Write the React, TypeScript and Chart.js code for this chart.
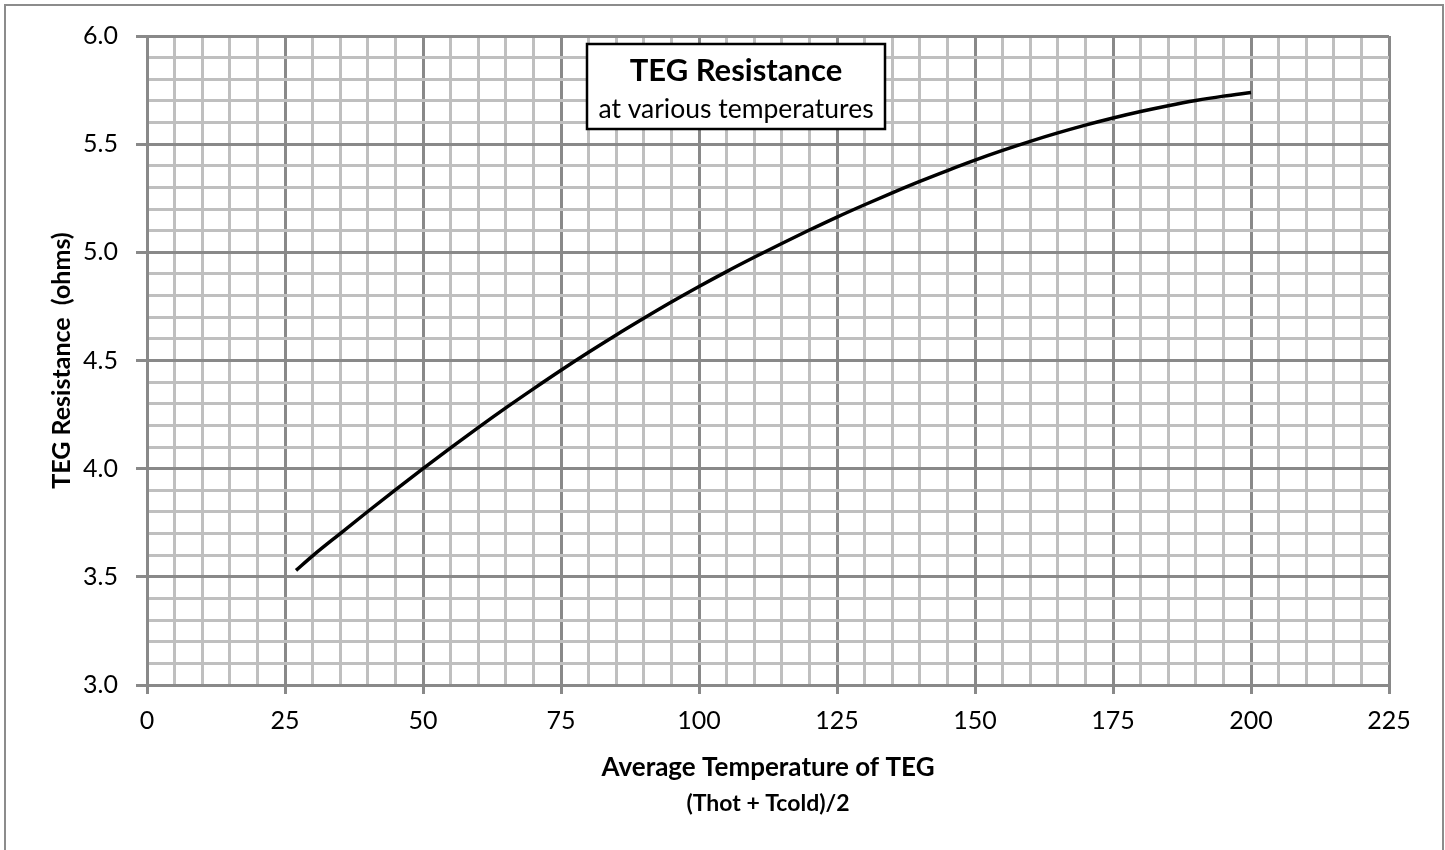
import React, { useEffect, useRef } from 'react';
import { Chart, registerables } from 'chart.js';

Chart.register(...registerables);

// ---- data ----
const temperatures = [27, 30, 35, 40, 45, 50, 55, 60, 65, 70, 75, 80, 85, 90, 95, 100, 105, 110, 115, 120, 125, 130, 135, 140, 145, 150, 155, 160, 165, 170, 175, 180, 185, 190, 195, 200];
const resistances = [3.53, 3.597, 3.7, 3.802, 3.902, 4.0, 4.096, 4.19, 4.281, 4.369, 4.455, 4.538, 4.618, 4.695, 4.77, 4.842, 4.911, 4.977, 5.041, 5.103, 5.163, 5.22, 5.275, 5.328, 5.378, 5.426, 5.471, 5.513, 5.552, 5.588, 5.621, 5.651, 5.678, 5.702, 5.722, 5.739];
const xTickLabels = ['0', '25', '50', '75', '100', '125', '150', '175', '200', '225'];
const yTickLabels = ['3.0', '3.5', '4.0', '4.5', '5.0', '5.5', '6.0'];

const chartTitle = 'TEG Resistance';
const chartSubtitle = 'at various temperatures';
const xTitleLine1 = 'Average Temperature of TEG';
const xTitleLine2 = '(Thot + Tcold)/2';
const yTitle = 'TEG Resistance  (ohms)';

const FONT = 'Lato, "Open Sans", sans-serif';
const MAJOR = '#898989';
const MINOR = '#bfbfbf';

const isMajorX = (v: number) => xTickLabels.includes(String(Math.round(v)));
const isMajorY = (v: number) => yTickLabels.includes((Math.round(v * 10) / 10).toFixed(1));

const overlayPlugin = {
  id: 'overlayText',
  afterDraw(chart: any) {
    const { ctx, chartArea } = chart;
    ctx.save();
    // title box
    const bx = chartArea.left + 440;
    const by = chartArea.top + 8;
    const bw = 298;
    const bh = 85;
    ctx.fillStyle = '#ffffff';
    ctx.fillRect(bx, by, bw, bh);
    ctx.strokeStyle = '#000000';
    ctx.lineWidth = 2.5;
    ctx.strokeRect(bx, by, bw, bh);
    ctx.fillStyle = '#000000';
    ctx.textAlign = 'center';
    ctx.textBaseline = 'alphabetic';
    ctx.font = `bold 31px ${FONT}`;
    ctx.fillText(chartTitle, bx + bw / 2, by + 37);
    ctx.font = `26.5px ${FONT}`;
    ctx.fillText(chartSubtitle, bx + bw / 2, by + 74);
    // x-axis title (two lines, different sizes)
    const cx = (chartArea.left + chartArea.right) / 2;
    ctx.font = `bold 26px ${FONT}`;
    ctx.fillText(xTitleLine1, cx, chartArea.bottom + 91);
    ctx.font = `bold 23px ${FONT}`;
    ctx.fillText(xTitleLine2, cx, chartArea.bottom + 126);
    ctx.restore();
  },
};

export default function App() {
  const canvasRef = useRef<HTMLCanvasElement | null>(null);

  useEffect(() => {
    if (!canvasRef.current) return;
    const chart = new Chart(canvasRef.current, {
      type: 'line',
      data: {
        datasets: [
          {
            label: chartTitle,
            data: temperatures.map((t, i) => ({ x: t, y: resistances[i] })),
            borderColor: '#000000',
            borderWidth: 3.5,
            pointRadius: 0,
            cubicInterpolationMode: 'monotone',
            fill: false,
          },
        ],
      },
      options: {
        animation: false,
        responsive: false,
        maintainAspectRatio: false,
        layout: { padding: { left: 0, top: 36, right: 56, bottom: 0 } },
        plugins: {
          legend: { display: false },
          tooltip: { enabled: false },
          title: { display: false },
        },
        scales: {
          x: {
            type: 'linear',
            min: 0,
            max: 225,
            afterFit: (scale: any) => {
              scale.height = 165;
            },
            ticks: {
              stepSize: 5,
              autoSkip: false,
              maxRotation: 0,
              padding: 12,
              color: '#000000',
              font: { family: FONT, size: 25 },
              callback: (v: any) => (isMajorX(Number(v)) ? String(Math.round(Number(v))) : ''),
            },
            grid: {
              color: (c: any) => (c.tick && isMajorX(c.tick.value) ? MAJOR : MINOR),
              lineWidth: 3,
              tickLength: 9,
              tickColor: (c: any) => (c.tick && isMajorX(c.tick.value) ? MAJOR : 'rgba(0,0,0,0)'),
              tickWidth: 3,
            },
            border: { display: true, color: MAJOR, width: 3 },
          },
          y: {
            type: 'linear',
            min: 3,
            max: 6,
            afterFit: (scale: any) => {
              scale.width = 147;
            },
            ticks: {
              stepSize: 0.1,
              autoSkip: false,
              padding: 18,
              color: '#000000',
              font: { family: FONT, size: 25 },
              callback: (v: any) => (isMajorY(Number(v)) ? (Math.round(Number(v) * 10) / 10).toFixed(1) : ''),
            },
            grid: {
              color: (c: any) => (c.tick && isMajorY(c.tick.value) ? MAJOR : MINOR),
              lineWidth: 3,
              tickLength: 11,
              tickColor: (c: any) => (c.tick && isMajorY(c.tick.value) ? MAJOR : 'rgba(0,0,0,0)'),
              tickWidth: 3,
            },
            border: { display: true, color: MAJOR, width: 3 },
            title: {
              display: true,
              text: yTitle,
              color: '#000000',
              font: { family: FONT, size: 25, weight: 'bold' },
              padding: { top: 47, bottom: 0 },
            },
          },
        },
      },
      plugins: [overlayPlugin],
    });
    return () => chart.destroy();
  }, []);

  return (
    <div style={{ position: 'fixed', left: 0, top: 0, width: 1445, height: 850, overflow: 'hidden', background: '#ffffff' }}>
      <canvas ref={canvasRef} width={1445} height={850} style={{ position: 'absolute', left: 0, top: 0, width: 1445, height: 850 }} />
      <div
        style={{
          position: 'absolute',
          left: 4,
          top: 4,
          width: 1436,
          height: 900,
          border: '2px solid #8c8c8c',
          pointerEvents: 'none',
        }}
      />
    </div>
  );
}
